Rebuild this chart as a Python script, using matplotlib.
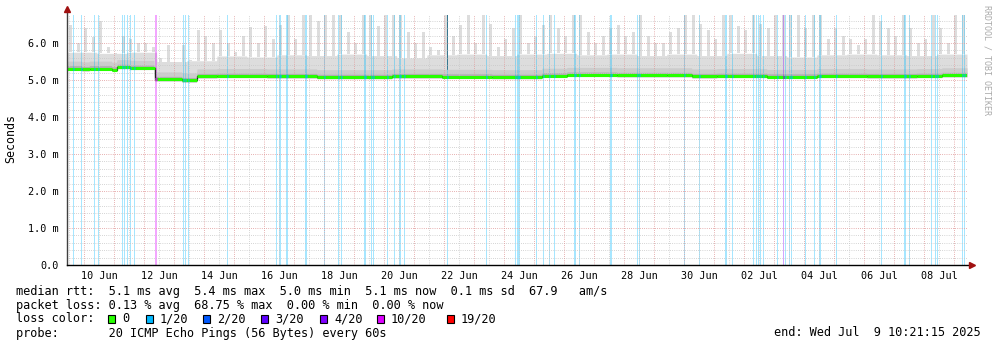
import numpy as np
import matplotlib.pyplot as plt
from matplotlib.patches import Rectangle
from datetime import datetime, timedelta

# time span of the graph (hours since start)
start = datetime(2025, 6, 9, 10, 21, 15)
span_h = 720

# median rtt as steps: hour since start -> ms
median_h = [0, 12, 18, 36, 40, 50, 70, 92, 104, 120, 160, 200, 260, 300, 340,
            380, 400, 440, 480, 500, 520, 560, 600, 640, 680, 700]
median_ms = [5.31, 5.29, 5.31, 5.28, 5.35, 5.33, 5.02, 4.99, 5.10, 5.11, 5.10,
             5.08, 5.10, 5.09, 5.08, 5.12, 5.14, 5.13, 5.13, 5.10, 5.11, 5.09,
             5.11, 5.10, 5.11, 5.13]

# smoke: solid level per day, peak per 6 hours (ms)
smoke_body = [5.75, 5.72, 5.75, 5.50, 5.52, 5.65, 5.62, 5.68, 5.66, 5.70,
              5.66, 5.60, 5.68, 5.70, 5.66, 5.70, 5.72, 5.68, 5.70, 5.66,
              5.70, 5.66, 5.72, 5.66, 5.62, 5.68, 5.70, 5.68, 5.66, 5.70]
smoke_peak = [6.5, 6.0, 6.4, 6.15, 6.6, 5.9, 5.7, 6.2, 6.1, 6.0, 6.0, 5.9,
              5.6, 5.95, 5.5, 5.95, 5.55, 6.35, 6.2, 6.0, 6.35, 6.0, 5.75, 6.2,
              6.44, 6.0, 6.45, 6.1, 6.5, 6.76, 6.1, 6.76, 6.76, 6.6, 6.76, 6.76,
              6.76, 6.3, 6.0, 6.76, 6.76, 6.45, 6.76, 6.76, 6.76, 6.3, 6.0, 6.3,
              5.9, 5.8, 6.76, 6.2, 6.5, 6.76, 6.0, 6.76, 6.5, 5.9, 6.1, 6.4,
              6.76, 6.0, 6.2, 6.5, 6.76, 6.4, 6.2, 6.76, 6.76, 6.3, 6.0, 6.2,
              6.4, 6.5, 6.2, 6.3, 6.76, 6.2, 6.0, 6.0, 6.3, 6.4, 6.76, 6.76,
              6.5, 6.35, 6.1, 6.76, 6.76, 6.45, 6.35, 6.76, 6.5, 6.4, 6.76, 6.76,
              6.76, 6.76, 6.4, 6.76, 6.76, 6.1, 6.4, 6.2, 6.1, 5.95, 6.1, 6.76,
              6.6, 6.4, 6.2, 6.76, 6.4, 6.0, 6.1, 6.76, 6.4, 6.0, 6.76, 6.76]
dark_spike_h = [304.2]

# packet loss events: hour since start, loss level
loss_h = [5.0, 11.4, 21.8, 24.6, 43.8, 45.4, 48.0, 50.2, 53.8, 70.0, 70.8,
          93.0, 94.6, 97.0, 128.2, 167.0, 169.4, 170.2, 175.0, 175.8, 190.4,
          191.2, 205.6, 216.6, 219.2, 237.4, 238.2, 243.0, 245.0, 256.2, 261.8,
          265.4, 266.2, 269.8, 304.2, 335.4, 358.6, 360.0, 360.8, 361.6, 375.4,
          381.0, 385.6, 389.8, 405.4, 406.2, 409.4, 434.2, 435.0, 455.8, 457.4,
          493.4, 505.6, 526.2, 527.0, 532.0, 548.6, 551.0, 553.0, 554.6, 556.6,
          568.2, 573.0, 574.6, 577.6, 579.4, 590.6, 597.4, 601.4, 602.6, 615.0,
          651.4, 669.6, 670.4, 673.6, 691.0, 694.2, 695.8, 715.8, 717.8]
loss_lvl = ['1/20'] * len(loss_h)
loss_lvl[9] = '10/20'
loss_lvl[10] = '10/20'
loss_lvl[62] = '4/20'

loss_names = ['0', '1/20', '2/20', '3/20', '4/20', '10/20', '19/20']
loss_colors = ['#26ff00', '#00b8ff', '#0059ff', '#5e00ff', '#7e00ff', '#dd00ff', '#ff0000']
col = dict(zip(loss_names, loss_colors))

ymax = 250 / 37.0

fig = plt.figure(figsize=(9.97, 3.47), dpi=100)
W, H = 997.0, 347.0
ax = fig.add_axes([67 / W, (H - 265) / H, 900 / W, 250 / H])
ax.set_xlim(0, span_h)
ax.set_ylim(0, ymax)
for s in ax.spines.values():
    s.set_visible(False)

mono = 'DejaVu Sans Mono'


def median_at(h):
    i = np.searchsorted(median_h, h, side='right') - 1
    return np.array(median_ms)[np.clip(i, 0, len(median_ms) - 1)]


# smoke
hh = np.arange(0, span_h + 0.4, 0.4)
med = median_at(hh)
body = np.array(smoke_body)[np.clip((hh // 24).astype(int), 0, 29)]
ax.fill_between(hh, med - 0.05, body, color='#dddddd', lw=0, zorder=1)
for k, p in enumerate(smoke_peak):
    b = smoke_body[min(k // 4, 29)]
    ax.bar(k * 6 + 3, p - b, bottom=b, width=2.4, color='#dddddd', lw=0, zorder=1)
for h in dark_spike_h:
    ax.bar(h, ymax - median_at(h), bottom=median_at(h), width=0.8,
           color='#555555', lw=0, zorder=1)
ax.fill_between(hh, med + 0.08, med + 0.2, color='#cccccc', lw=0, zorder=1.1)
ax.fill_between(hh, med - 0.04, med + 0.08, color='#b0b0b0', lw=0, zorder=1.2)

# loss bars
for h, l in zip(loss_h, loss_lvl):
    ax.axvspan(h, h + 0.8, color=col[l], alpha=0.35, lw=0, zorder=1.5)

# grid (drawn over the smoke, like rrdtool)
dots = (0, (0.72, 1.44))
for y in np.arange(0.2, ymax, 0.2):
    if abs(y - round(y)) > 0.01:
        ax.axhline(y, color='#c8c8c8', lw=0.72, ls=dots, zorder=2)
for y in range(1, 7):
    ax.axhline(y, color='#e09a9a', lw=0.72, ls=dots, zorder=2.1)
t = datetime(2025, 6, 9, 12)
while t < start + timedelta(hours=span_h):
    x = (t - start).total_seconds() / 3600
    if x > 0:
        if t.hour == 0:
            ax.axvline(x, color='#e09a9a', lw=0.72, ls=dots, zorder=2.1)
        else:
            ax.axvline(x, color='#c8c8c8', lw=0.72, ls=dots, zorder=2)
    t += timedelta(hours=12)

# median line
ax.step(median_h + [span_h], median_ms + [median_ms[-1]], where='post',
        color='#202020', lw=0.9, zorder=3)
ends = median_h[1:] + [span_h]
ax.hlines(median_ms, median_h, ends, color=col['0'], lw=2.2, zorder=3.2)
for h, l in zip(loss_h, loss_lvl):
    ax.hlines(median_at(h), h, h + 0.8, color=col[l], lw=2.2, zorder=3.3)

# axes with arrows
ax.plot([0, 0], [0, (265 - 9) / 250.0], transform=ax.transAxes, color='#404040',
        lw=1, clip_on=False, zorder=5)
ax.plot([0, (971 - 67) / 900.0], [0, 0], transform=ax.transAxes, color='black',
        lw=1, clip_on=False, zorder=5)
ax.plot([0], [(265 - 9) / 250.0], marker='^', ms=4, color='#a01010',
        transform=ax.transAxes, clip_on=False, zorder=6)
ax.plot([(972 - 67) / 900.0], [0], marker='>', ms=4, color='#a01010',
        transform=ax.transAxes, clip_on=False, zorder=6)

# ticks
ylabels = ['0.0', '1.0 m', '2.0 m', '3.0 m', '4.0 m', '5.0 m', '6.0 m']
ax.set_yticks(range(7))
ax.set_yticklabels(ylabels, fontfamily=mono, fontsize=7.3)
xt, xl = [], []
d = datetime(2025, 6, 10, 12)
while d < start + timedelta(hours=span_h):
    xt.append((d - start).total_seconds() / 3600)
    xl.append(d.strftime('%d %b'))
    d += timedelta(days=2)
ax.set_xticks(xt)
ax.set_xticklabels(xl, fontfamily=mono, fontsize=7.3)
ax.tick_params(axis='both', length=0, colors='black')
ax.tick_params(axis='x', pad=4)
ax.tick_params(axis='y', pad=6)

fig.text(11 / W, 1 - 139 / H, 'Seconds', rotation=90, ha='center', va='center',
         fontfamily=mono, fontsize=8.4)
fig.text(987 / W, 1 - 5 / H, 'RRDTOOL / TOBI OETIKER', rotation=270, ha='center',
         va='top', fontfamily=mono, fontsize=6, color='#aaaaaa')

# legend lines
rows = [
    'median rtt:  5.1 ms avg  5.4 ms max  5.0 ms min  5.1 ms now  0.1 ms sd  67.9   am/s',
    'packet loss: 0.13 % avg  68.75 % max  0.00 % min  0.00 % now',
    'loss color:',
    'probe:       20 ICMP Echo Pings (56 Bytes) every 60s',
]
for i, r in enumerate(rows):
    fig.text(16 / W, 1 - (291 + 14 * i) / H, r, ha='left', va='center',
             fontfamily=mono, fontsize=8.55)
box_x = [108, 146, 203, 261, 320, 377, 447]
for bx, name, c in zip(box_x, loss_names, loss_colors):
    fig.patches.append(Rectangle((bx / W, 1 - 323 / H), 7 / W, 8 / H,
                                 transform=fig.transFigure, facecolor=c,
                                 edgecolor='black', lw=0.8))
    fig.text((bx + 14) / W, 1 - 319 / H, name, ha='left', va='center',
             fontfamily=mono, fontsize=8.55)
fig.text(981 / W, 1 - 333 / H, 'end: Wed Jul  9 10:21:15 2025', ha='right',
         va='center', fontfamily=mono, fontsize=8.55)

fig.savefig('out.png', dpi=100)
